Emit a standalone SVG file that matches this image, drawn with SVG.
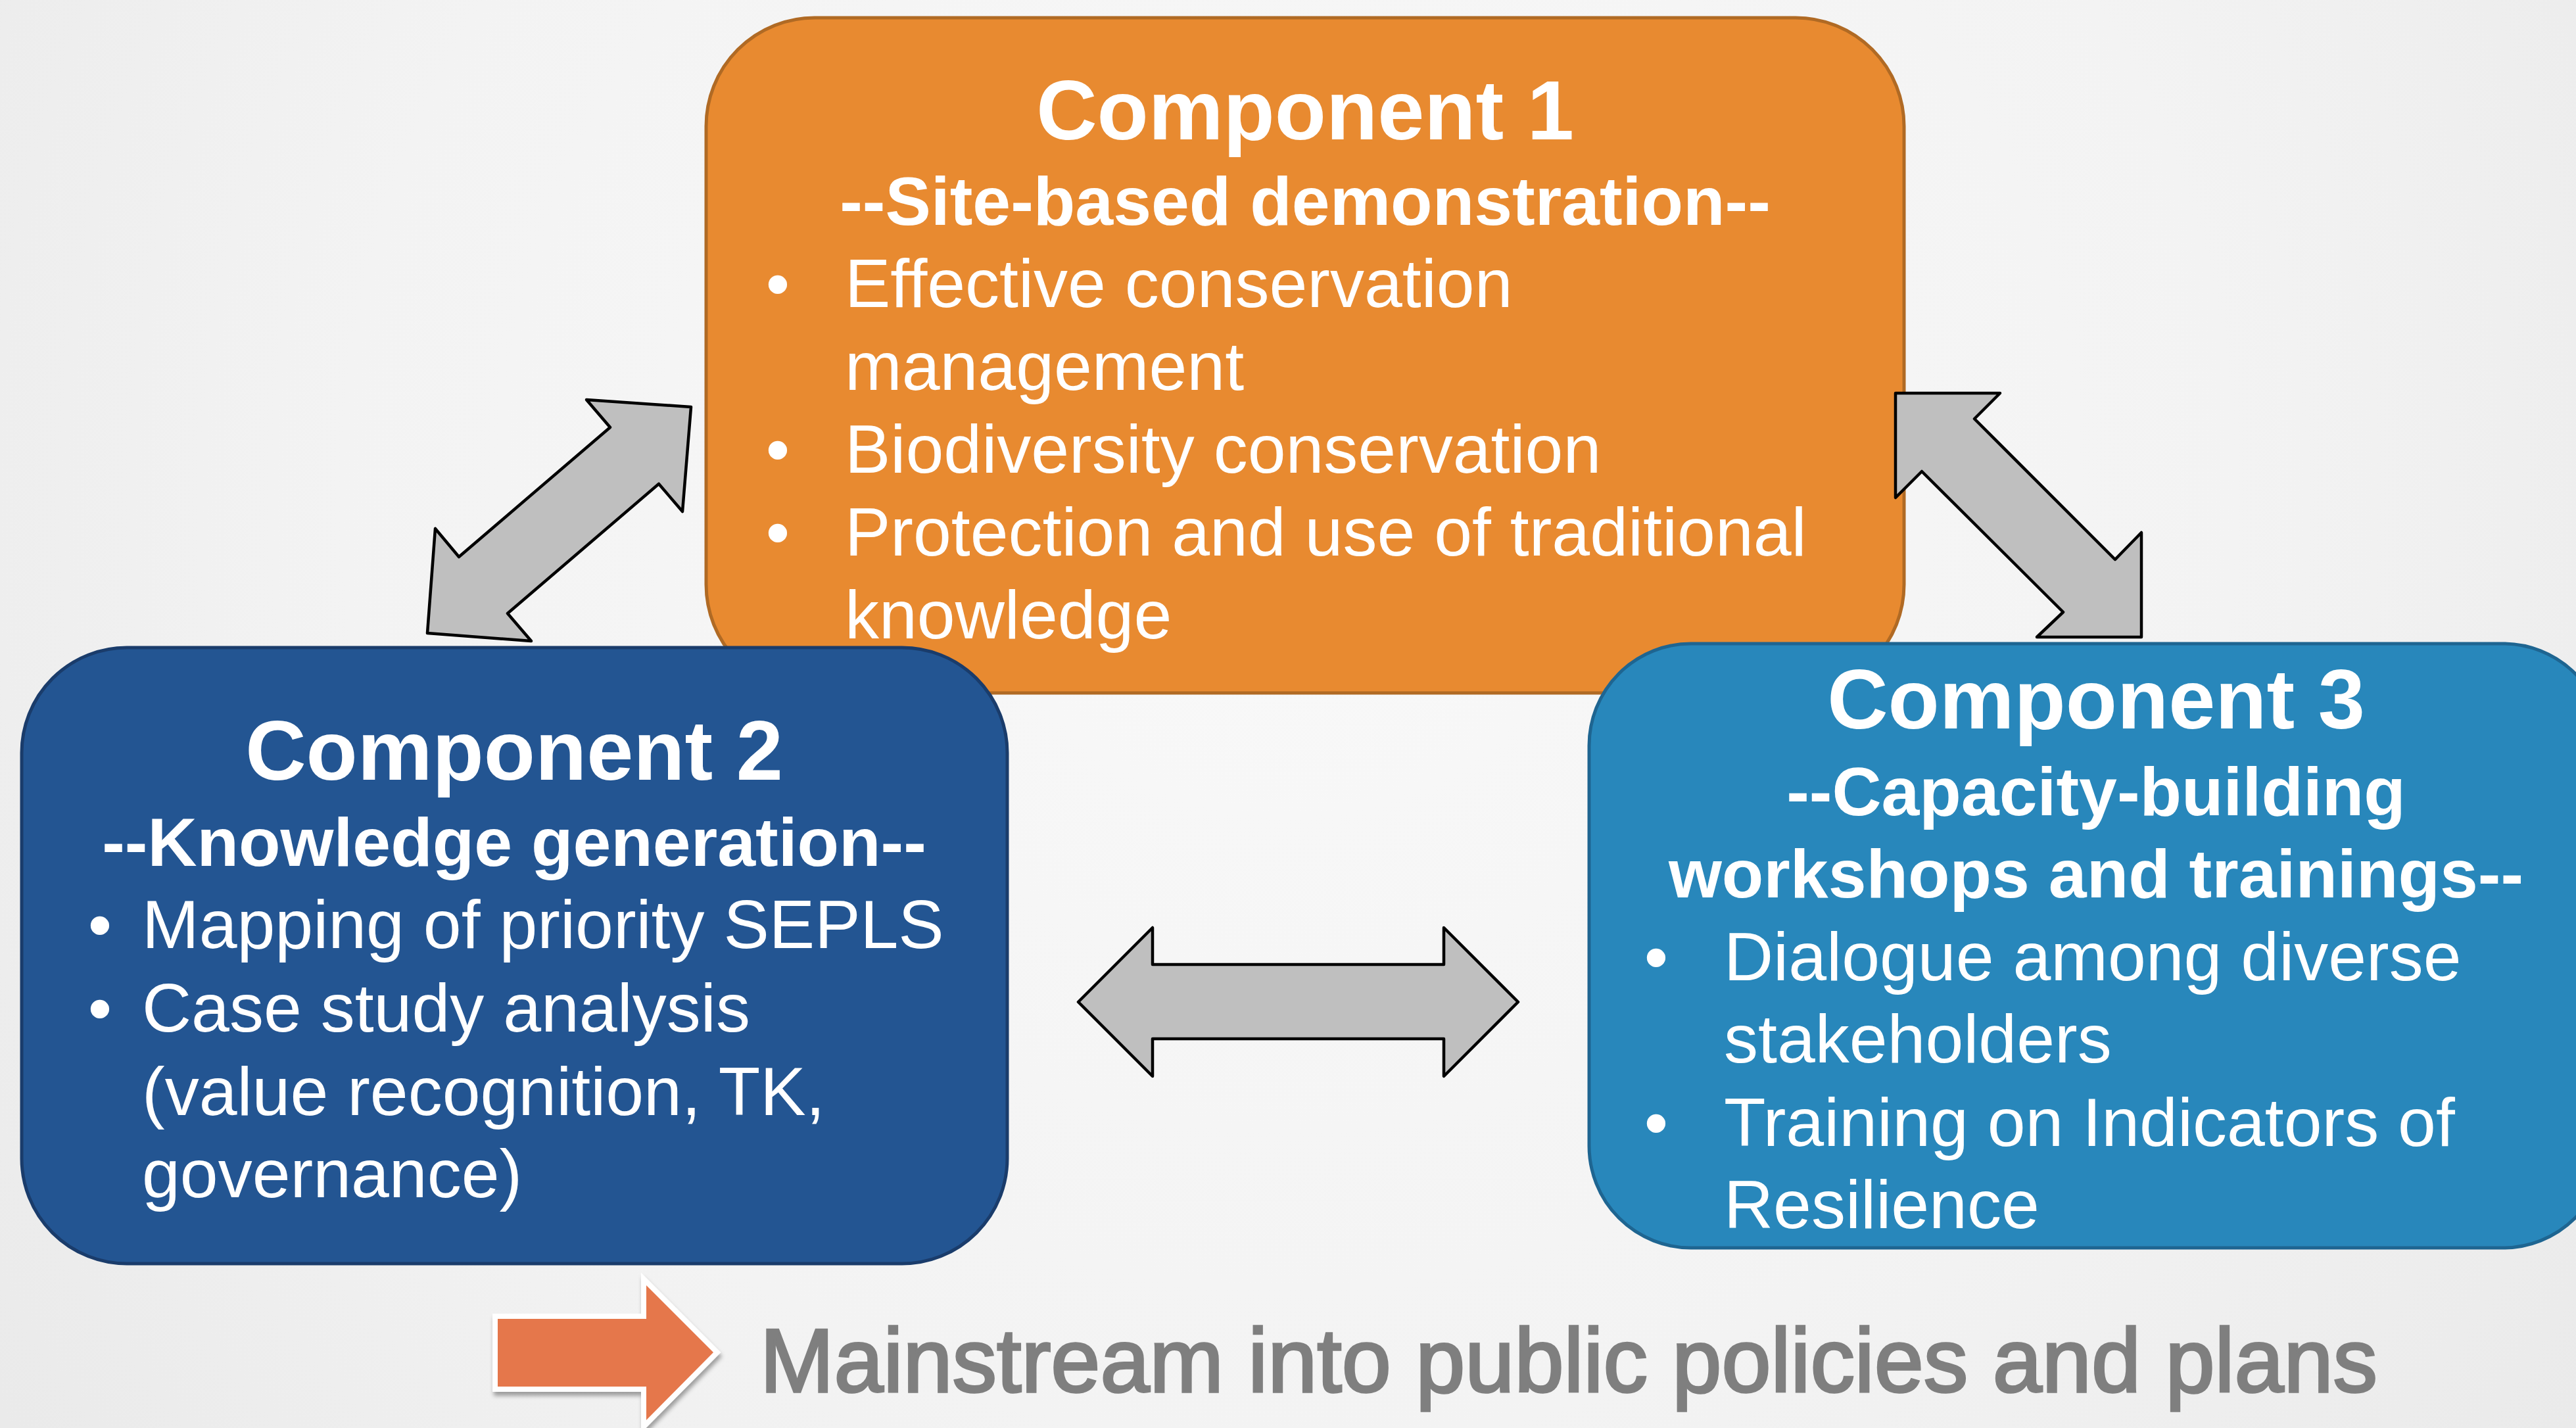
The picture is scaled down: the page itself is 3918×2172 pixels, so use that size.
<svg xmlns="http://www.w3.org/2000/svg" width="3918" height="2172" viewBox="0 0 3918 2172">
  <defs>
    <radialGradient id="bg" cx="1960" cy="760" r="2400" gradientUnits="userSpaceOnUse">
      <stop offset="0" stop-color="#F9F9F9"/>
      <stop offset="0.6" stop-color="#F3F3F3"/>
      <stop offset="1" stop-color="#EAEAEA"/>
    </radialGradient>
    <filter id="shadow" x="-20%" y="-20%" width="140%" height="150%">
      <feDropShadow dx="2" dy="6" stdDeviation="3" flood-color="#000" flood-opacity="0.35"/>
    </filter>
  </defs>
  <style>
    text { font-family: "Liberation Sans", Arial, sans-serif; fill: #FFFFFF; }
    .title { font-size: 128px; font-weight: bold; text-anchor: middle; }
    .sub { font-size: 104px; font-weight: bold; text-anchor: middle; }
    .item { font-size: 104px; }
    .dot { font-size: 104px; text-anchor: middle; }
    .c1 { fill: #E88A30; stroke: #B06A24; stroke-width: 5; }
    .c2 { fill: #235592; stroke: #1A3C6B; stroke-width: 5; }
    .c3 { fill: #2887BB; stroke: #1E6591; stroke-width: 5; }
    .dbl { fill: #BFBFBF; stroke: #000000; stroke-width: 4.5; stroke-linejoin: round; }
    .main { font-size: 137px; fill: #7F7F7F; stroke: #7F7F7F; stroke-width: 3.5; }
  </style>

  <rect x="0" y="0" width="3918" height="2172" fill="url(#bg)"/>

  <g id="component1">
    <rect class="c1" x="1074" y="27" width="1822" height="1027" rx="165" ry="165"/>
    <text class="title" x="1985" y="212">Component 1</text>
    <text class="sub" x="1985" y="342">--Site-based demonstration--</text>
    <text class="dot" x="1183" y="467">•</text>
    <text class="item" x="1285" y="467">Effective conservation</text>
    <text class="item" x="1285" y="593">management</text>
    <text class="dot" x="1183" y="719">•</text>
    <text class="item" x="1285" y="719">Biodiversity conservation</text>
    <text class="dot" x="1183" y="845">•</text>
    <text class="item" x="1285" y="845">Protection and use of traditional</text>
    <text class="item" x="1285" y="971">knowledge</text>
  </g>

  <g id="component2">
    <rect class="c2" x="33" y="985" width="1499" height="937" rx="160" ry="160"/>
    <text class="title" x="782" y="1186">Component 2</text>
    <text class="sub" x="782" y="1317">--Knowledge generation--</text>
    <text class="dot" x="152" y="1442">•</text>
    <text class="item" x="216" y="1442">Mapping of priority SEPLS</text>
    <text class="dot" x="152" y="1569">•</text>
    <text class="item" x="216" y="1569">Case study analysis</text>
    <text class="item" x="216" y="1696">(value recognition, TK,</text>
    <text class="item" x="216" y="1821">governance)</text>
  </g>

  <g id="component3">
    <rect class="c3" x="2417" y="979" width="1545" height="919" rx="155" ry="155"/>
    <text class="title" x="3188" y="1108">Component 3</text>
    <text class="sub" x="3188" y="1240">--Capacity-building</text>
    <text class="sub" x="3188" y="1365">workshops and trainings--</text>
    <text class="dot" x="2519" y="1491">•</text>
    <text class="item" x="2622" y="1491">Dialogue among diverse</text>
    <text class="item" x="2622" y="1616">stakeholders</text>
    <text class="dot" x="2519" y="1743">•</text>
    <text class="item" x="2622" y="1743">Training on Indicators of</text>
    <text class="item" x="2622" y="1868">Resilience</text>
  </g>

  <g id="connectors">
    <polygon class="dbl" points="1051,619 892,608 928,650 698,847 662,804 650,963 808,975 772,933 1002,736 1038,778"/>
    <polygon class="dbl" points="2883,598 3042,598 3003,637 3217,851 3257,810 3257,969 3098,969 3138,931 2923,717 2883,757"/>
    <polygon class="dbl" points="1640,1524 1753,1411 1753,1467 2196,1467 2196,1411 2309,1524 2196,1637 2196,1580 1753,1580 1753,1637"/>
  </g>

  <g id="mainstream">
    <polygon points="757,2006 983,2006 983,1955 1085,2057 983,2160 983,2109 757,2109" fill="#E5774B" stroke="#FFFFFF" stroke-width="16" stroke-linejoin="miter" paint-order="stroke" filter="url(#shadow)"/>
    <text class="main" x="1156" y="2117" textLength="2460" lengthAdjust="spacingAndGlyphs">Mainstream into public policies and plans</text>
  </g>
</svg>
